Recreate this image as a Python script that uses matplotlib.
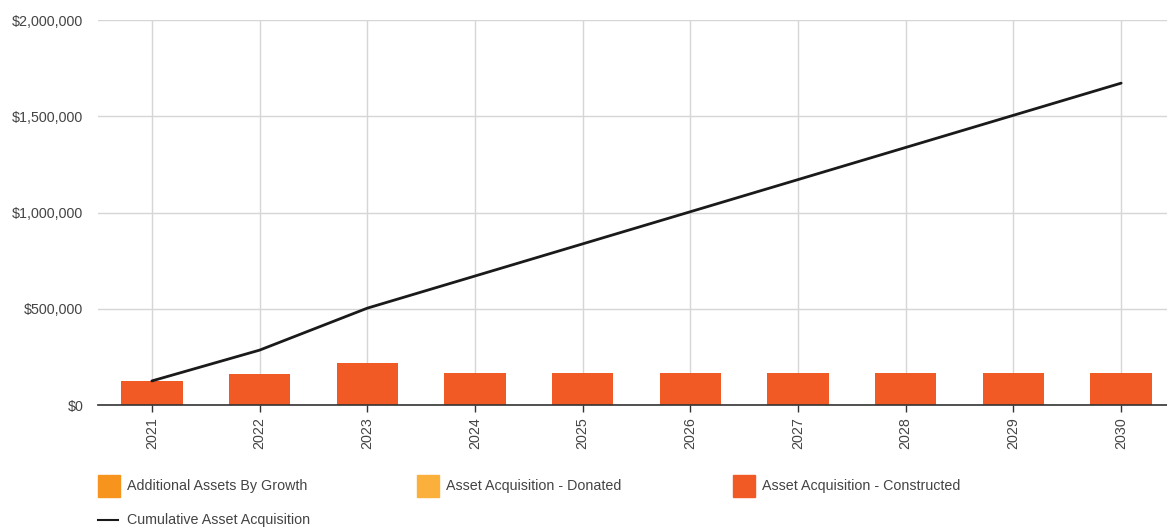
import matplotlib
matplotlib.use("Agg")
import matplotlib.pyplot as plt
from matplotlib.patches import Rectangle
from matplotlib.lines import Line2D
from matplotlib.ticker import FuncFormatter

plt.rcParams['font.family'] = ['Liberation Sans', 'DejaVu Sans']

years = ["2021", "2022", "2023", "2024", "2025", "2026", "2027", "2028", "2029", "2030"]
growth = [0, 0, 0, 0, 0, 0, 0, 0, 0, 0]
donated = [0, 0, 0, 0, 0, 0, 0, 0, 0, 0]
constructed = [125000, 160000, 218000, 167000, 167000, 167000, 167000, 167000, 167000, 167000]

series_labels = ["Additional Assets By Growth", "Asset Acquisition - Donated",
                 "Asset Acquisition - Constructed"]
line_label = "Cumulative Asset Acquisition"
y_ticks = [0, 500000, 1000000, 1500000, 2000000]

# running total of all acquisition sources
cumulative = []
total = 0
for g, d, c in zip(growth, donated, constructed):
    total += g + d + c
    cumulative.append(total)

col_growth = "#f7941d"
col_donated = "#fbb03b"
col_constructed = "#f15a24"
col_line = "#1a1a1a"
text_col = "#444444"
fs = 10.3

W, H = 1167, 527
fig = plt.figure(figsize=(W / 100, H / 100), dpi=100)
ax = fig.add_axes([98 / W, 1 - 405 / H, (1175 - 98) / W, (405 - 20) / H])

x = list(range(len(years)))
bw = 0.57
ax.bar(x, growth, width=bw, color=col_growth, zorder=2)
ax.bar(x, donated, width=bw, bottom=growth, color=col_donated, zorder=2)
base = [g + d for g, d in zip(growth, donated)]
ax.bar(x, constructed, width=bw, bottom=base, color=col_constructed, zorder=2)
ax.plot(x, cumulative, color=col_line, lw=2, zorder=3, solid_capstyle='round')

ax.set_xlim(-0.5, len(years) - 0.5)
ax.set_ylim(0, 2000000)
ax.set_yticks(y_ticks)
ax.yaxis.set_major_formatter(FuncFormatter(lambda v, p: f"${v:,.0f}"))
ax.set_xticks(x)
ax.set_xticklabels(years, rotation=90)

ax.grid(True, color="#d6d6d6", lw=1, zorder=0)
ax.set_axisbelow(True)
for s in ["top", "right", "left"]:
    ax.spines[s].set_visible(False)
ax.spines["bottom"].set_color("#333333")
ax.spines["bottom"].set_linewidth(1.2)
ax.spines["bottom"].set_zorder(4)

ax.tick_params(axis='y', length=0, pad=10.5, labelsize=fs, labelcolor=text_col)
ax.tick_params(axis='x', length=5, width=1, color="#333333", pad=4,
               labelsize=fs, labelcolor=text_col)

# legend drawn in figure pixel space
def px(xp, yp):
    return xp / W, 1 - yp / H

legend_items = [(98, series_labels[0], col_growth),
                (417, series_labels[1], col_donated),
                (733, series_labels[2], col_constructed)]
for lx, lab, col in legend_items:
    x0, y0 = px(lx, 497)
    fig.add_artist(Rectangle((x0, y0), 22 / W, 22 / H, transform=fig.transFigure,
                             color=col))
    tx, ty = px(lx + 29, 486)
    fig.text(tx, ty, lab, ha='left', va='center', fontsize=fs, color=text_col)

lx0, ly = px(98, 520)
lx1, _ = px(118, 520)
fig.add_artist(Line2D([lx0, lx1], [ly, ly], transform=fig.transFigure,
                      color=col_line, lw=1.5))
tx, ty = px(127, 520)
fig.text(tx, ty, line_label, ha='left', va='center', fontsize=fs, color=text_col)

fig.savefig("out.png", dpi=100)
